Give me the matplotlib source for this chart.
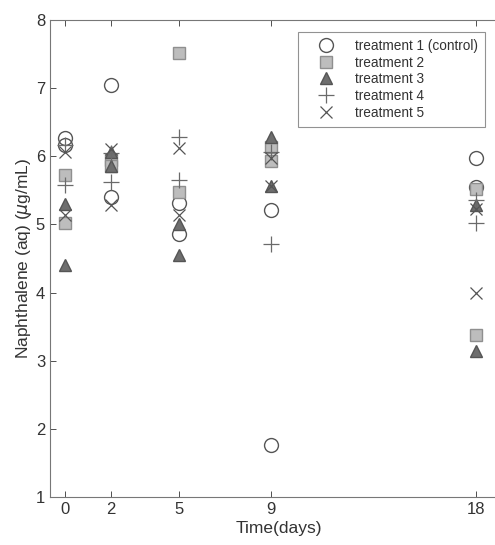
import numpy as np
import matplotlib.pyplot as plt

plt.rcParams['font.family'] = ['Liberation Sans', 'DejaVu Sans']

days = [0, 2, 5, 9, 18]
labels = ["treatment 1 (control)", "treatment 2", "treatment 3",
          "treatment 4", "treatment 5"]

# two replicates per sampling day
t1 = [(6.27, 6.17), (7.05, 5.40), (5.32, 4.86), (5.21, 1.77), (5.97, 5.55)]
t2 = [(5.72, 5.02), (5.95, 5.86), (7.52, 5.47), (6.14, 5.93), (5.52, 3.38)]
t3 = [(5.30, 4.40), (6.07, 5.86), (5.01, 4.55), (6.28, 5.56), (5.28, 3.14)]
t4 = [(6.17, 5.58), (6.05, 5.62), (6.28, 5.65), (6.07, 4.72), (5.36, 5.02)]
t5 = [(6.07, 5.14), (6.10, 5.28), (6.12, 5.14), (5.97, 5.56), (5.22, 3.99)]

styles = [
    dict(marker='o', ms=10, mfc='none', mec='#555555', mew=1.0),
    dict(marker='s', ms=8, mfc='#bdbdbd', mec='#8f8f8f', mew=1.0),
    dict(marker='^', ms=9, mfc='#6e6e6e', mec='#555555', mew=1.0),
    dict(marker='+', ms=11, mec='#6a6a6a', mew=0.9),
    dict(marker='x', ms=9, mec='#555555', mew=0.9),
]

fig = plt.figure(figsize=(4.95, 5.45), dpi=100)
ax = fig.add_axes([50 / 495, 48 / 545, 458 / 495, 477 / 545])

for data, lab, st in zip([t1, t2, t3, t4, t5], labels, styles):
    x = np.repeat(days, 2)
    y = np.array(data).ravel()
    ax.plot(x, y, ls='none', label=lab, **st)

ax.set_xlim(-0.66, 19.4)
ax.set_ylim(1, 8)
ax.set_xticks(days)
ax.set_yticks(range(1, 9))
ax.tick_params(direction='in', top=True, right=True, labelsize=12,
               colors='#333333', length=4, width=0.6)
for s in ax.spines.values():
    s.set_color('#777777')
    s.set_linewidth(0.8)
ax.set_xlabel("Time(days)", fontsize=12.5, color='#333333', labelpad=3)
ax.set_ylabel(r"Naphthalene (aq) ($\mu$g/mL)", fontsize=12.5, color='#333333',
              labelpad=1)

leg = ax.legend(loc='upper right', bbox_to_anchor=(485 / 495, 1 - 32 / 545),
                bbox_transform=fig.transFigure, fontsize=9.8,
                frameon=True, fancybox=False, edgecolor='#777777',
                handletextpad=0.6, borderpad=0.5, labelspacing=0.2,
                handlelength=3.1, borderaxespad=0)
leg.get_frame().set_linewidth(0.8)
for t in leg.get_texts():
    t.set_color('#333333')

fig.savefig("out.png", dpi=100)
